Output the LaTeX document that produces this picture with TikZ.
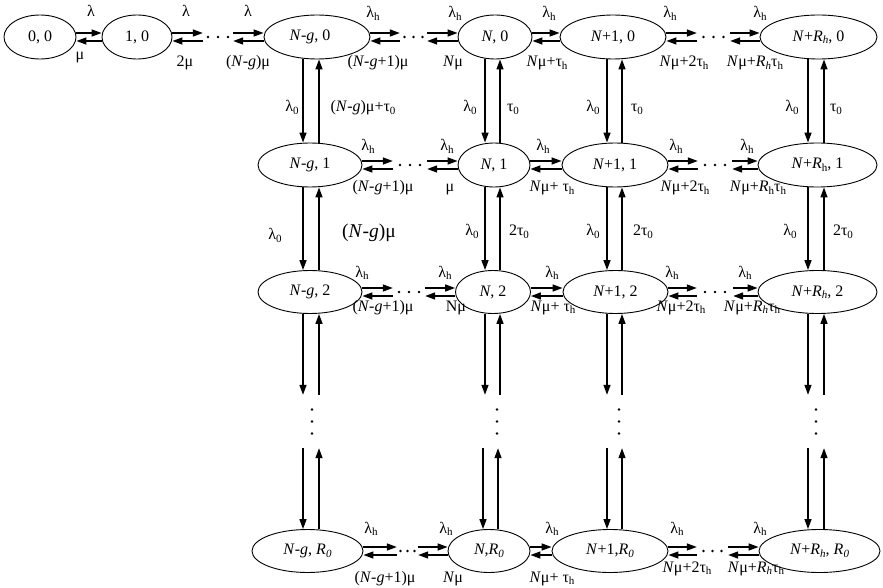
\documentclass[tikz,border=0pt]{standalone}
\usepackage{fontspec}
\setmainfont{Liberation Serif}
\usetikzlibrary{shapes.geometric,arrows.meta}
\newcommand\fs[1]{\fontsize{#1}{#1}\selectfont}
\newcommand\sbx[1]{\raisebox{-0.35ex}{\fontsize{11}{11}\selectfont #1}}
\newcommand\Ni{\textit{N}}
\newcommand\NgT{\textit{N}-\textit{g}}
\newcommand\lamh{λ\sbx{h}}
\newcommand\lamz{λ\sbx{0}}
\newcommand\tauz{τ\sbx{0}}
\newcommand\tauh{τ\sbx{h}}
\newcommand\Rh{\textit{R}\sbx{h}}
\newcommand\Rhi{\textit{R\sbx{h}}}
\newcommand\Rz{\textit{R\sbx{0}}}
\newcommand\hpair[2]{\draw[arr] ([yshift=4pt]#1.east) -- ([yshift=4pt]#2.west);
  \draw[arr] ([yshift=-4pt]#2.west) -- ([yshift=-4pt]#1.east);}
\newcommand\vpair[6]{\draw[arr] ([xshift=#3pt]#1.south) -- ([xshift=#4pt]#2.north);
  \draw[arr] ([xshift=#6pt]#2.north) -- ([xshift=#5pt]#1.south);}
\begin{document}
\begin{tikzpicture}[x=1pt,y=-1pt,
  st/.style={draw, ellipse, line width=0.9pt, inner sep=0pt, minimum height=44pt, font=\fs{16}},
  arr/.style={line width=1.4pt, -{Triangle[length=10pt,width=7pt]}},
  lab/.style={anchor=base, inner sep=0pt, font=\fs{16}},
  hgap/.style={minimum height=4pt, inner sep=0pt},
  vgap/.style={minimum width=4pt, minimum height=53pt, inner sep=0pt}]
\useasboundingbox (0,0) rectangle (883,588);
% states
\node[st, minimum width=72pt] (n00) at (40,37) {0, 0};
\node[st, minimum width=70pt] (n10) at (137,37) {1, 0};
\node[st, minimum width=106pt] (ng0) at (317,37) {\NgT, 0\hspace*{14pt}};
\node[st, minimum width=74pt] (nn0) at (495,37) {\Ni, 0};
\node[st, minimum width=106pt] (np0) at (613,37) {\Ni+1, 0};
\node[st, minimum width=117pt] (nr0) at (818.5,37) {\Ni+\Rhi, 0};
\node[st, minimum width=104pt] (ng1) at (310,165) {\NgT, 1};
\node[st, minimum width=72pt] (nn1) at (494,165) {\Ni, 1};
\node[st, minimum width=106pt] (np1) at (615,165) {\Ni+1, 1};
\node[st, minimum width=119pt] (nr1) at (817.5,165) {\Ni+\Rh, 1};
\node[st, minimum width=104pt, minimum height=43pt] (ng2) at (310,292) {\NgT, 2};
\node[st, minimum width=75pt, minimum height=43pt] (nn2) at (493,292) {\Ni, 2};
\node[st, minimum width=105pt, minimum height=43pt] (np2) at (615.5,292) {\Ni+1, 2};
\node[st, minimum width=119pt, minimum height=43pt] (nr2) at (817.5,292) {\Ni+\Rhi, 2};
\node[st, minimum width=111pt, minimum height=43pt] (ngR) at (307.5,551) {\NgT, \Rz};
\node[st, minimum width=82pt, minimum height=43pt] (nnR) at (489,551) {\Ni,\Rz};
\node[st, minimum width=116pt, minimum height=43pt] (npR) at (610,551) {\Ni+1,\Rz};
\node[st, minimum width=121pt, minimum height=43pt] (nrR) at (819.5,551) {\Ni+\Rhi, \Rz};
% gaps with dots
\node[hgap, minimum width=30pt] (g0a) at (218,37) {};
\node[hgap, minimum width=27pt] (g0b) at (413.5,37) {};
\node[hgap, minimum width=33pt] (g0c) at (713.5,37) {};
\node[hgap, minimum width=34pt] (g1b) at (410,165) {};
\node[hgap, minimum width=34pt] (g1c) at (715,165) {};
\node[hgap, minimum width=32pt] (g2b) at (409,292) {};
\node[hgap, minimum width=36pt] (g2c) at (715,292) {};
\node[hgap, minimum width=21pt] (gRb) at (407.5,551) {};
\node[hgap, minimum width=31pt] (gRc) at (712.5,551) {};
\node[vgap] (vg) at (312,421.5) {};
\node[vgap] (vn) at (497,421.5) {};
\node[vgap] (vp) at (619,421.5) {};
\node[vgap] (vr) at (816,421.5) {};
\foreach \g/\s in {g0a/10,g0b/9,g0c/10,g1b/10,g1c/10,g2b/10,g2c/10,gRb/7,gRc/9}
  \foreach \k in {-1,0,1} \fill ([xshift={\k*\s}]\g.center) circle (1.4pt);
\foreach \g in {vg,vn,vp,vr}
  \foreach \k in {-12,0,12} \fill ([yshift=\k pt]\g.center) circle (1.4pt);
% horizontal transitions
\hpair{n00}{n10} \hpair{n10}{g0a} \hpair{g0a}{ng0} \hpair{ng0}{g0b} \hpair{g0b}{nn0}
\hpair{nn0}{np0} \hpair{np0}{g0c} \hpair{g0c}{nr0}
\hpair{ng1}{g1b} \hpair{g1b}{nn1} \hpair{nn1}{np1} \hpair{np1}{g1c} \hpair{g1c}{nr1}
\hpair{ng2}{g2b} \hpair{g2b}{nn2} \hpair{nn2}{np2} \hpair{np2}{g2c} \hpair{g2c}{nr2}
\hpair{ngR}{gRb} \hpair{gRb}{nnR} \hpair{nnR}{npR} \hpair{npR}{gRc} \hpair{gRc}{nrR}
% vertical transitions
\vpair{ng0}{ng1}{-14}{-7}{2}{9}
\vpair{ng1}{ng2}{-7}{-7}{9}{9}
\vpair{ng2}{vg}{-7}{-9}{9}{7}
\vpair{vg}{ngR}{-9}{-4.5}{7}{11.5}
\vpair{nn0}{nn1}{-10}{-9}{5}{6}
\vpair{nn1}{nn2}{-9}{-8}{6}{7}
\vpair{nn2}{vn}{-8}{-12}{7}{3}
\vpair{vn}{nnR}{-14}{-6}{1}{9}
\vpair{np0}{np1}{-6}{-8}{9}{7}
\vpair{np1}{np2}{-8}{-8.5}{7}{6.5}
\vpair{np2}{vp}{-8.5}{-12}{6.5}{3}
\vpair{vp}{npR}{-12}{-3}{3}{12}
\vpair{nr0}{nr1}{-10.5}{-9.5}{5.5}{6.5}
\vpair{nr1}{nr2}{-9.5}{-9.5}{6.5}{6.5}
\vpair{nr2}{vr}{-9.5}{-8}{6.5}{8}
\vpair{vr}{nrR}{-8}{-11.5}{8}{4.5}
% labels row 0
\node[lab] (la1) at (91,17) {λ};
\node[lab] (la2) at (186,17) {λ};
\node[lab] (la3) at (248,17) {λ};
\node[lab] (la4) at (373,18) {\lamh};
\node[lab] (la5) at (455,18) {\lamh};
\node[lab] (la6) at (549,18) {\lamh};
\node[lab] (la7) at (670,18) {\lamh};
\node[lab] (la8) at (760,18) {\lamh};
\node[lab] (lb1) at (80,60) {μ};
\node[lab] (lb2) at (185,67) {2μ};
\node[lab] (lb3) at (248,67) {(\NgT)μ};
\node[lab] (lb4) at (378,67) {(\NgT+1)μ};
\node[lab] (lb5) at (453,67) {\Ni μ};
\node[lab] (lb6) at (547,67) {\Ni μ+\tauh};
\node[lab] (lb7) at (684,67) {\Ni μ+2\tauh};
\node[lab] (lb8) at (755,67) {\Ni μ+\Rhi\tauh};
% labels row 1
\node[lab] (lc1) at (368,151) {\lamh};
\node[lab] (lc2) at (447,151) {\lamh};
\node[lab] (lc3) at (543,151) {\lamh};
\node[lab] (lc4) at (676,151) {\lamh};
\node[lab] (lc5) at (747,151) {\lamh};
\node[lab] (ld1) at (383,192) {(\NgT+1)μ};
\node[lab] (ld2) at (450,192) {μ};
\node[lab] (ld3) at (552,192) {\Ni μ+ \tauh};
\node[lab] (ld4) at (685,192) {\Ni μ+2\tauh};
\node[lab] (ld5) at (758,192) {\Ni μ+\Rh\tauh};
% labels row 2
\node[lab] (le1) at (362,277) {\lamh};
\node[lab] (le2) at (445,277) {\lamh};
\node[lab] (le3) at (552,277) {\lamh};
\node[lab] (le4) at (672,277) {\lamh};
\node[lab] (le5) at (745,277) {\lamh};
\node[lab] (lf1) at (383,311) {(\NgT+1)μ};
\node[lab] (lf2) at (456,311) {Nμ};
\node[lab] (lf3) at (553,311) {\Ni μ+ \tauh};
\node[lab] (lf4) at (681,311) {\Ni μ+2\tauh};
\node[lab] (lf5) at (752,311) {\Ni μ+\Rhi\tauh};
% labels row R0
\node[lab] (lg1) at (371,533) {\lamh};
\node[lab] (lg2) at (446,533) {\lamh};
\node[lab] (lg3) at (552,533) {\lamh};
\node[lab] (lg4) at (677,533) {\lamh};
\node[lab] (lg5) at (760,533) {\lamh};
\node[lab] (lh1) at (385,582) {(\NgT+1)μ};
\node[lab] (lh2) at (453,582) {\Ni μ};
\node[lab] (lh3) at (552,582) {\Ni μ+ \tauh};
\node[lab] (lh4) at (687,572) {\Ni μ+2\tauh};
\node[lab] (lh5) at (756,572) {\Ni μ+\Rhi\tauh};
% vertical labels
\node[lab] (lv1) at (292,112) {\lamz};
\node[lab] (lv2) at (363,112) {(\NgT)μ+\tauz};
\node[lab] (lv3) at (470,112) {\lamz};
\node[lab] (lv4) at (513,112) {\tauz};
\node[lab] (lv5) at (593,112) {\lamz};
\node[lab] (lv6) at (637,112) {\tauz};
\node[lab] (lv7) at (792,112) {\lamz};
\node[lab] (lv8) at (836,112) {\tauz};
\node[lab] (lw1) at (275,240) {\lamz};
\node[lab, font=\fs{19.5}] (lw2) at (369,237) {(\NgT)μ};
\node[lab] (lw3) at (472,236) {\lamz};
\node[lab] (lw4) at (519,236) {2\tauz};
\node[lab] (lw5) at (593,236) {\lamz};
\node[lab] (lw6) at (643,236) {2\tauz};
\node[lab] (lw7) at (790,236) {\lamz};
\node[lab] (lw8) at (843,236) {2\tauz};
\end{tikzpicture}
\end{document}
